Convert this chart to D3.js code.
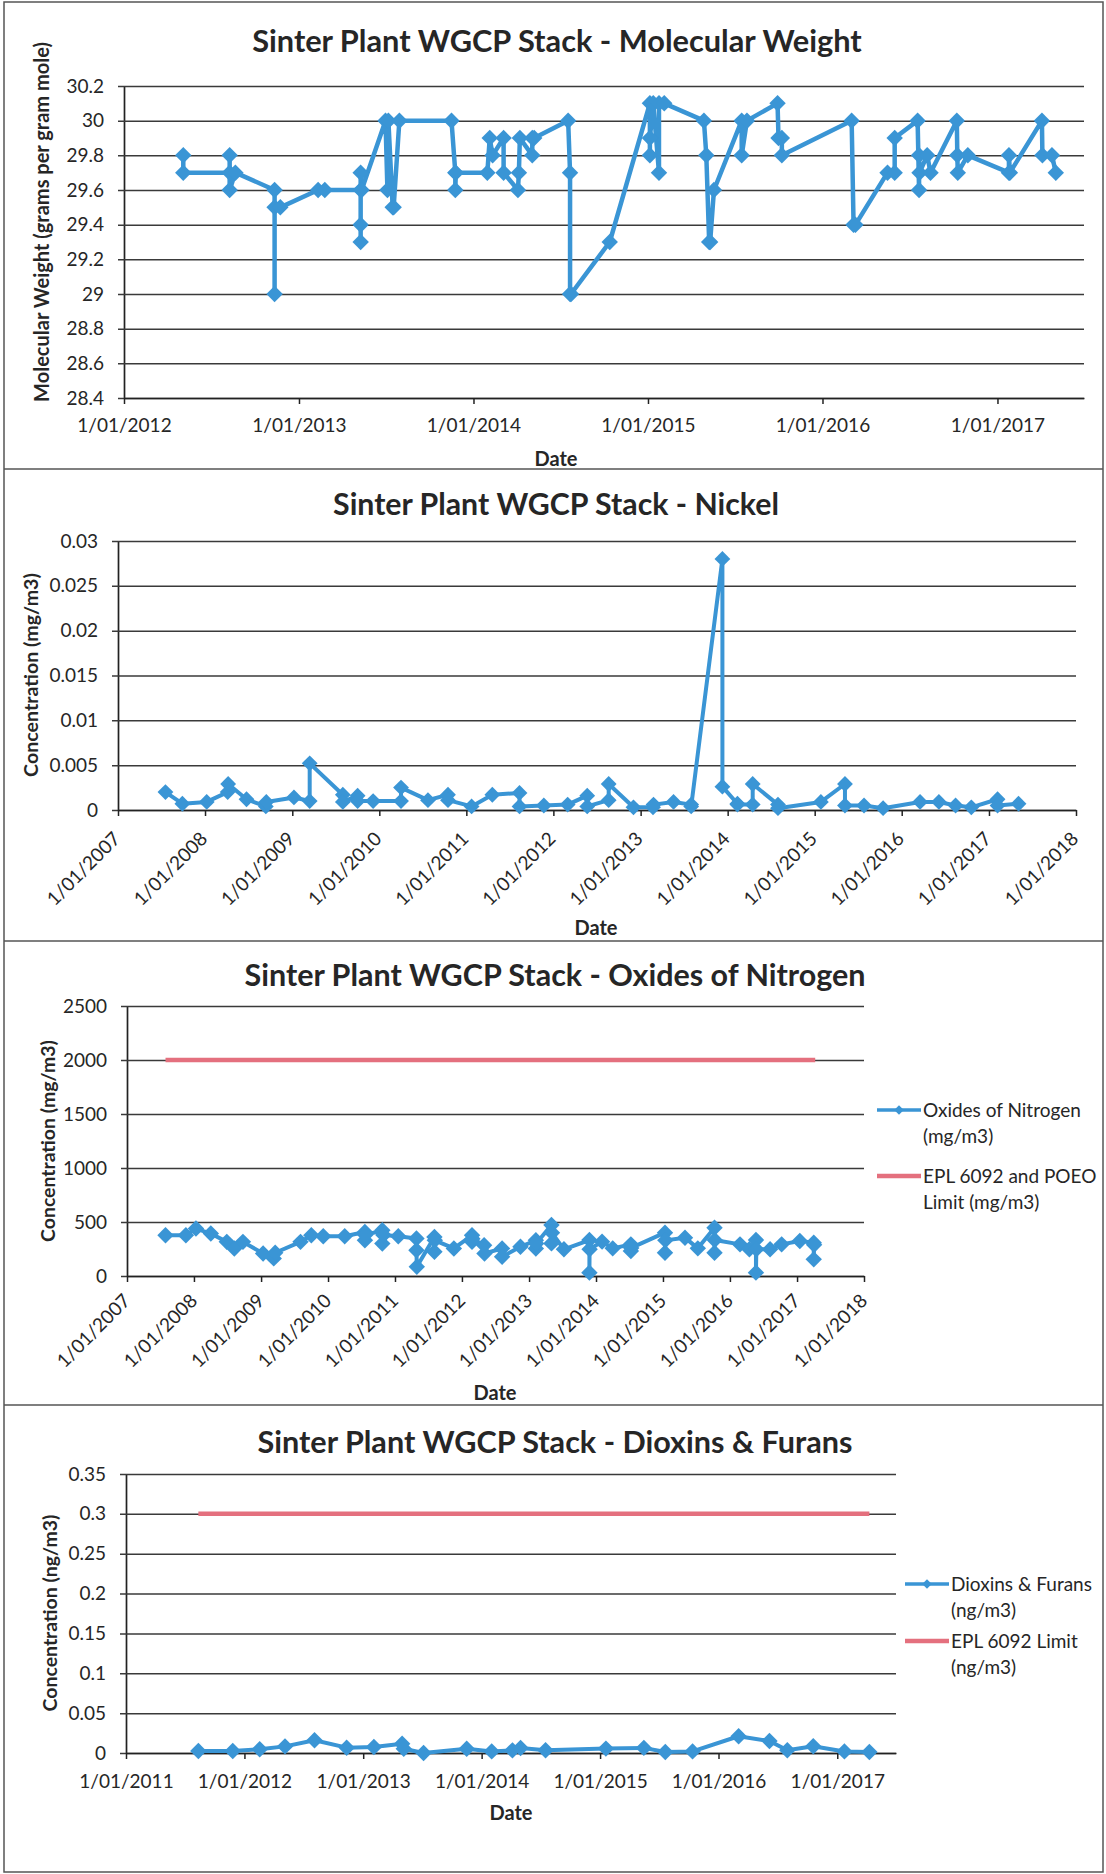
<!DOCTYPE html>
<html><head><meta charset="utf-8">
<script src="https://cdn.jsdelivr.net/npm/d3@7"></script>
<style>
html,body{margin:0;padding:0;background:#fff;}
svg text{font-family:Lato,"Open Sans",sans-serif;fill:#262626;}
</style></head><body>
<svg id="c" width="1106" height="1874"></svg>
<script>
// ---------------- DATA ----------------
const mwDates = ["2012-05-04","2012-05-04","2012-08-09","2012-08-09","2012-08-09","2012-08-21","2012-11-11","2012-11-11","2012-11-11","2012-11-23",
 "2013-02-10","2013-02-24","2013-05-10","2013-05-10","2013-05-10","2013-05-10","2013-05-12","2013-07-01","2013-07-05","2013-07-07","2013-07-16","2013-07-18","2013-07-30",
 "2013-11-16","2013-11-24","2013-11-24","2013-11-25","2014-01-30","2014-02-04","2014-02-10","2014-03-05","2014-03-05","2014-04-04","2014-04-06","2014-04-08","2014-05-04","2014-05-04","2014-05-08",
 "2014-07-18","2014-07-22","2014-07-22","2014-07-24","2014-10-13","2015-01-05","2015-01-05","2015-01-05","2015-01-12","2015-01-24","2015-01-24","2015-02-04",
 "2015-04-28","2015-05-03","2015-05-09","2015-05-11","2015-05-19","2015-07-16","2015-07-16","2015-07-27","2015-09-29","2015-10-01","2015-10-08","2015-10-08",
 "2016-03-02","2016-03-06","2016-03-10","2016-05-16","2016-05-31","2016-05-31","2016-07-18","2016-07-21","2016-07-21","2016-07-22","2016-08-07","2016-08-14",
 "2016-10-08","2016-10-09","2016-10-10","2016-10-31","2017-01-25","2017-01-25","2017-01-27","2017-04-04","2017-04-05","2017-04-25","2017-05-03"];
const mwValues = [29.8,29.7,29.7,29.8,29.6,29.7,29.6,29.0,29.5,29.5,
 29.6,29.6,29.6,29.3,29.4,29.7,29.6,30.0,29.6,30.0,29.5,29.5,30.0,
 30.0,29.7,29.6,29.7,29.7,29.9,29.8,29.9,29.7,29.6,29.7,29.9,29.8,29.9,29.9,
 30.0,29.7,29.0,29.0,29.3,30.1,29.8,29.9,30.1,29.7,30.1,30.1,
 30.0,29.8,29.3,29.3,29.6,30.0,29.8,30.0,30.1,29.9,29.9,29.8,
 30.0,29.4,29.4,29.7,29.7,29.9,30.0,29.6,29.8,29.7,29.8,29.7,
 30.0,29.8,29.7,29.8,29.7,29.8,29.7,30.0,29.8,29.8,29.7];

const niDates = ["2007-07-19","2007-09-28","2008-01-08","2008-04-05","2008-04-07","2008-06-23","2008-09-12","2008-09-14","2009-01-08","2009-03-15","2009-03-15",
 "2009-08-01","2009-08-01","2009-10-02","2009-10-02","2009-12-06","2010-04-02","2010-04-02","2010-07-24","2010-10-16","2010-10-16","2011-01-23","2011-04-20",
 "2011-08-12","2011-08-12","2011-11-22","2012-03-01","2012-05-22","2012-05-22","2012-08-20","2012-08-20","2012-12-02","2013-02-22","2013-02-24","2013-05-19",
 "2013-08-01","2013-08-01","2013-12-10","2013-12-10","2014-02-11","2014-02-11","2014-04-16","2014-04-16","2014-07-31","2014-07-31","2015-01-27","2015-05-08",
 "2015-05-08","2015-07-27","2015-10-15","2016-03-18","2016-06-05","2016-08-14","2016-10-19","2017-02-06","2017-02-06","2017-05-05"];
const niValues = [0.002,0.0007,0.0009,0.002,0.0029,0.0012,0.0004,0.0009,0.0014,0.001,0.0052,
 0.0017,0.0009,0.0016,0.001,0.001,0.001,0.0025,0.0011,0.0017,0.0011,0.0004,0.0017,
 0.0019,0.0004,0.0005,0.0006,0.0016,0.0004,0.0011,0.0029,0.0003,0.0003,0.0006,0.0009,
 0.0006,0.0004,0.028,0.0026,0.0007,0.0006,0.0006,0.0029,0.0006,0.0002,0.0009,0.0029,
 0.0005,0.0005,0.0002,0.0009,0.0009,0.0005,0.0003,0.0012,0.0005,0.0007];

const noxDates = ["2007-07-30","2007-11-18","2008-01-12","2008-04-02","2008-06-28","2008-08-08","2008-09-24","2009-01-12","2009-03-11","2009-03-19",
 "2009-08-04","2009-10-02","2009-12-06","2010-04-02","2010-07-21","2010-07-21","2010-07-23","2010-10-24","2010-10-24","2010-10-30","2011-01-19",
 "2011-04-28","2011-04-28","2011-04-30","2011-08-04","2011-08-04","2011-08-06","2011-11-18","2012-02-25","2012-02-25","2012-02-27","2012-05-01","2012-05-03",
 "2012-08-07","2012-08-07","2012-11-15","2013-02-07","2013-02-07","2013-02-09","2013-05-03","2013-05-03","2013-05-06","2013-07-10","2013-11-26","2013-11-26","2013-11-27",
 "2014-02-03","2014-04-02","2014-07-10","2014-07-10","2014-07-12","2015-01-12","2015-01-12","2015-01-14","2015-05-01","2015-07-10","2015-10-09","2015-10-09","2015-10-10",
 "2016-02-25","2016-04-16","2016-05-22","2016-05-22","2016-05-24","2016-08-07","2016-10-09","2017-01-16","2017-04-02","2017-04-02","2017-04-04"];
const noxValues = [377,377,439,393,316,255,316,209,163,215,
 316,377,368,368,408,331,380,423,300,380,368,
 347,239,86,362,224,330,255,377,316,345,285,209,
 255,178,270,331,255,300,472,302,400,247,333,31,247,
 318,256,293,232,260,401,216,330,355,256,447,216,333,
 293,247,333,31,247,247,293,324,309,154,290];
const noxLimitDates = ["2007-07-30","2017-04-10"];
const noxLimitValues = [2000,2000];

const dfDates = ["2011-08-12","2011-11-26","2012-02-17","2012-05-05","2012-08-04","2012-11-11","2013-02-03","2013-05-01","2013-05-06","2013-07-06",
 "2013-11-16","2014-02-01","2014-04-06","2014-05-01","2014-07-17","2015-01-19","2015-05-16","2015-07-21","2015-10-13","2016-03-03","2016-06-06",
 "2016-07-31","2016-10-19","2017-01-23","2017-04-10"];
const dfValues = [0.0025,0.0025,0.0046,0.0083,0.016,0.0067,0.0075,0.0117,0.0054,0.0,
 0.0054,0.002,0.0033,0.0062,0.0035,0.0055,0.0064,0.0013,0.002,0.021,0.015,
 0.0034,0.0085,0.002,0.0013];
const dfLimitDates = ["2011-08-12","2017-04-10"];
const dfLimitValues = [0.3,0.3];

const mwTicks = [28.4,28.6,28.8,29,29.2,29.4,29.6,29.8,30,30.2];
const mwTickLabels = ["28.4","28.6","28.8","29","29.2","29.4","29.6","29.8","30","30.2"];
const niTicks = [0,0.005,0.01,0.015,0.02,0.025,0.03];
const niTickLabels = ["0","0.005","0.01","0.015","0.02","0.025","0.03"];
const noxTicks = [0,500,1000,1500,2000,2500];
const noxTickLabels = ["0","500","1000","1500","2000","2500"];
const dfTicks = [0,0.05,0.1,0.15,0.2,0.25,0.3,0.35];
const dfTickLabels = ["0","0.05","0.1","0.15","0.2","0.25","0.3","0.35"];
const yearsMW = [2012,2013,2014,2015,2016,2017];
const yearsNi = [2007,2008,2009,2010,2011,2012,2013,2014,2015,2016,2017,2018];
const yearsDF = [2011,2012,2013,2014,2015,2016,2017];

const titles = ["Sinter Plant WGCP Stack - Molecular Weight","Sinter Plant WGCP Stack - Nickel",
 "Sinter Plant WGCP Stack - Oxides of Nitrogen","Sinter Plant WGCP Stack - Dioxins & Furans"];
const yTitles = ["Molecular Weight (grams per gram mole)","Concentration (mg/m3)","Concentration (mg/m3)","Concentration (ng/m3)"];

// ---------------- DRAW ----------------
const BLUE = "#3a95d5", PINK = "#e4707e", GRID = "#3a3a3a";
const parse = d3.timeParse("%Y-%m-%d");
const svg = d3.select("#c");
svg.append("rect").attr("width",1106).attr("height",1874).attr("fill","#fff");

function fit(sel, target){
  const w = sel.node().getComputedTextLength();
  const fs = parseFloat(sel.attr("font-size"));
  sel.attr("font-size", fs*target/w);
}

function panel(c){
  const g = svg.append("g");
  const x = d3.scaleTime().domain([new Date(c.xDom[0],c.xDom[1],1), new Date(c.xDom[2],c.xDom[3],1)]).range([c.x0,c.x1]);
  const y = d3.scaleLinear().domain([c.ticks[0], c.ticks[c.ticks.length-1]]).range([c.y1,c.y0]);
  // y axis with gridlines
  const ya = g.append("g").attr("transform",`translate(${c.x0},0)`)
    .call(d3.axisLeft(y).tickValues(c.ticks).tickFormat((d,i)=>c.tickLabels[i])
      .tickSizeInner(-(c.x1-c.x0)).tickSizeOuter(0).tickPadding(20));
  ya.attr("font-family",null).attr("font-size",null);
  ya.select(".domain").attr("stroke","#222").attr("stroke-width",1.7);
  ya.selectAll(".tick line").attr("x1",-6).attr("stroke",GRID).attr("stroke-width",1.5);
  ya.selectAll(".tick text").attr("font-size",c.tickFs).attr("fill","#262626");
  // x axis
  const xa = g.append("g").attr("transform",`translate(0,${c.y1})`)
    .call(d3.axisBottom(x).tickValues(c.years.map(v=>new Date(v,0,1))).tickFormat(d=>"1/01/"+d.getFullYear())
      .tickSize(6).tickSizeOuter(0));
  xa.attr("font-family",null).attr("font-size",null);
  xa.select(".domain").attr("stroke","#222").attr("stroke-width",1.7);
  xa.selectAll(".tick line").attr("stroke","#222").attr("stroke-width",1.5);
  const xt = xa.selectAll(".tick text").attr("font-size",c.tickFs).attr("fill","#262626");
  if(c.rot){
    xt.attr("x",0).attr("y",0).attr("dy",0).attr("text-anchor","end")
      .attr("transform",`translate(${c.rdx},${c.rdy}) rotate(-45)`);
  } else {
    xt.attr("y",c.flatY).attr("dy",0);
  }
  // limit line
  if(c.limD){
    const lim = c.limD.map((d,i)=>({d:parse(d), v:c.limV[i]}));
    g.append("path").datum(lim).attr("fill","none").attr("stroke",PINK).attr("stroke-width",4.5)
      .attr("d", d3.line().x(d=>x(d.d)).y(d=>y(d.v)));
  }
  // series
  const data = c.dates.map((d,i)=>({d:parse(d), v:c.values[i]}));
  g.append("path").datum(data).attr("fill","none").attr("stroke",BLUE).attr("stroke-width",c.lw)
    .attr("stroke-linejoin","round").attr("d", d3.line().x(d=>x(d.d)).y(d=>y(d.v)));
  g.selectAll(".mk").data(data).join("path").attr("class","mk")
    .attr("d", d3.symbol(d3.symbolSquare, c.ms)).attr("fill",BLUE)
    .attr("transform", d=>`translate(${x(d.d)},${y(d.v)}) rotate(45)`);
  // titles
  const t = g.append("text").attr("x",c.tx).attr("y",c.ty).attr("text-anchor","middle")
    .attr("font-weight",700).attr("font-size",26).text(c.title);
  fit(t, c.tw);
  const yt = g.append("text").attr("transform",`translate(${c.yx},${c.yy}) rotate(-90)`).attr("text-anchor","middle")
    .attr("dy","0.35em").attr("font-weight",700).attr("font-size",18).text(c.ytitle);
  fit(yt, c.ytw);
  g.append("text").attr("x",c.dx).attr("y",c.dy).attr("text-anchor","middle")
    .attr("font-weight",700).attr("font-size",20).text("Date");
  // legend
  if(c.leg){
    const L = c.leg;
    const lg = g.append("g");
    lg.append("line").attr("x1",L.x).attr("x2",L.x+44).attr("y1",L.y1).attr("y2",L.y1).attr("stroke",BLUE).attr("stroke-width",3.5);
    lg.append("path").attr("d", d3.symbol(d3.symbolSquare, 45)).attr("fill",BLUE)
      .attr("transform",`translate(${L.x+22},${L.y1}) rotate(45)`);
    lg.append("line").attr("x1",L.x).attr("x2",L.x+44).attr("y1",L.y2).attr("y2",L.y2).attr("stroke",PINK).attr("stroke-width",4.5);
    const lines = [[L.t1[0],L.y1],[L.t1[1],L.y1+26],[L.t2[0],L.y2],[L.t2[1],L.y2+26]];
    lines.forEach(([s,yy])=>{
      lg.append("text").attr("x",L.x+46).attr("y",yy).attr("dy","0.35em").attr("font-size",L.fs).text(s);
    });
  }
}

// frame
const frame = svg.append("g").attr("fill","none").attr("stroke","#555").attr("stroke-width",1.5);
frame.append("rect").attr("x",4).attr("y",2).attr("width",1099).attr("height",1870);
[469,941,1405].forEach(v=>frame.append("line").attr("x1",4).attr("x2",1103).attr("y1",v).attr("y2",v));

panel({x0:124,x1:1084,y0:86,y1:398,xDom:[2012,0,2017,6],ticks:mwTicks,tickLabels:mwTickLabels,years:yearsMW,
  rot:false,flatY:34,tickFs:19,dates:mwDates,values:mwValues,lw:4.5,ms:135,
  title:titles[0],tx:557,ty:52,tw:610,ytitle:yTitles[0],yx:42,yy:222,ytw:360,dx:556,dy:466});
panel({x0:118,x1:1076,y0:541,y1:810,xDom:[2007,0,2018,0],ticks:niTicks,tickLabels:niTickLabels,years:yearsNi,
  rot:true,rdx:3,rdy:30,tickFs:19,dates:niDates,values:niValues,lw:4,ms:125,
  title:titles[1],tx:556,ty:515,tw:446,ytitle:yTitles[1],yx:31,yy:675,ytw:204,dx:596,dy:935});
panel({x0:127,x1:864,y0:1006,y1:1276,xDom:[2007,0,2018,0],ticks:noxTicks,tickLabels:noxTickLabels,years:yearsNi,
  rot:true,rdx:4,rdy:26,tickFs:19,dates:noxDates,values:noxValues,lw:4,ms:135,limD:noxLimitDates,limV:noxLimitValues,
  title:titles[2],tx:555,ty:986,tw:621,ytitle:yTitles[2],yx:48,yy:1141,ytw:202,dx:495,dy:1400,
  leg:{x:877,y1:1110,y2:1176,fs:19,t1:["Oxides of Nitrogen","(mg/m3)"],t2:["EPL 6092 and POEO","Limit (mg/m3)"]}});
panel({x0:126,x1:896,y0:1474,y1:1753,xDom:[2011,0,2017,6],ticks:dfTicks,tickLabels:dfTickLabels,years:yearsDF,
  rot:false,flatY:35,tickFs:19,dates:dfDates,values:dfValues,lw:4,ms:135,limD:dfLimitDates,limV:dfLimitValues,
  title:titles[3],tx:555,ty:1453,tw:595,ytitle:yTitles[3],yx:50,yy:1613,ytw:197,dx:511,dy:1820,
  leg:{x:905,y1:1584,y2:1641,fs:19,t1:["Dioxins & Furans","(ng/m3)"],t2:["EPL 6092 Limit","(ng/m3)"]}});
</script>
</body></html>
